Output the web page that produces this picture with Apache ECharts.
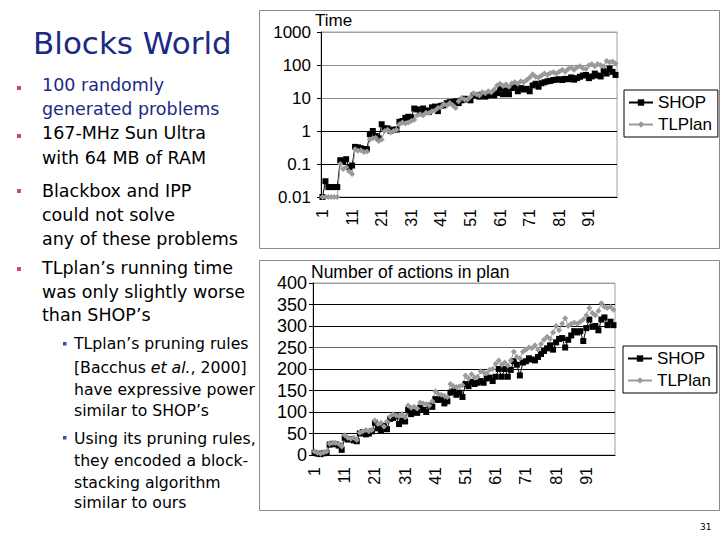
<!DOCTYPE html>
<html><head><meta charset="utf-8">
<script src="https://cdn.jsdelivr.net/npm/echarts@6/dist/echarts.min.js"></script>
<style>html,body{margin:0;padding:0;background:#fff}#c{width:720px;height:540px}</style>
</head><body><div id="c"></div>
<script>
const categories = Array.from({length: 100}, (_, i) => String(i + 1));
const timeTicks = ['0.01', '0.1', '1', '10', '100', '1000'];
const seriesNames = ['SHOP', 'TLPlan'];

const shopTime = [
  0.01, 0.03, 0.02, 0.02, 0.02, 0.02, 0.13, 0.12, 0.14, 0.08,
  0.09, 0.33, 0.32, 0.30, 0.28, 0.28, 0.8, 1.0, 0.7, 0.6,
  1.6, 1.2, 1.2, 1.0, 1.1, 1.1, 1.9, 2.0, 2.5, 2.7,
  2.6, 4.8, 4.5, 3.5, 4.8, 4.2, 3.8, 5.2, 5.5, 4.0,
  5.8, 6.0, 7.0, 7.5, 7.5, 8.0, 7.0, 8.5, 9.5, 9.0,
  8.5, 12, 12, 11, 13, 11, 12, 13, 12, 14,
  20, 13, 17, 13, 20, 24, 16, 20, 18, 19,
  16, 24, 27, 22, 28, 30, 32, 33, 35, 36,
  37, 35, 38, 37, 42, 36, 40, 44, 48, 50,
  40, 45, 55, 48, 45, 65, 55, 78, 62, 50
];
const tlplanTime = [
  0.01, 0.01, 0.01, 0.01, 0.01, 0.01, 0.10, 0.07, 0.08, 0.06,
  0.05, 0.28, 0.25, 0.26, 0.23, 0.24, 0.55, 0.6, 0.62, 0.5,
  0.55, 1.0, 1.1, 0.9, 1.0, 1.1, 1.6, 1.8, 1.7, 1.8,
  2.0, 2.2, 3.0, 3.2, 3.0, 3.6, 3.5, 4.0, 4.2, 5.0,
  5.2, 6.5, 6.0, 7.0, 6.0, 5.0, 8.0, 10, 9, 9,
  11, 14, 13, 12, 15, 14, 16, 15, 18, 24,
  27, 23, 26, 22, 28, 30, 27, 32, 30, 35,
  42, 52, 44, 42, 48, 55, 50, 57, 60, 55,
  62, 72, 62, 76, 82, 72, 86, 92, 80, 75,
  98, 105, 92, 108, 98, 92, 132, 122, 128, 112
];
const shopActions = [
  5, 3, 2, 4, 5, 24, 26, 25, 22, 12,
  40, 36, 37, 34, 32, 50, 53, 48, 50, 55,
  75, 62, 58, 68, 60, 84, 86, 90, 72, 80,
  78, 105, 95, 100, 98, 110, 105, 100, 115, 112,
  130, 128, 130, 120, 125, 145, 148, 140, 145, 135,
  165, 160, 170, 165, 168, 172, 168, 178, 180, 172,
  182, 200, 182, 200, 182, 198, 218, 210, 185, 215,
  218, 225, 222, 220, 228, 235, 242, 248, 255, 245,
  262, 270, 272, 250, 268, 278, 288, 285, 288, 265,
  295, 315, 298, 300, 290, 315, 320, 302, 310, 302
];
const tlplanActions = [
  8, 5, 3, 6, 8, 26, 28, 28, 26, 20,
  46, 40, 38, 40, 35, 52, 55, 58, 55, 58,
  80, 72, 75, 66, 78, 89, 95, 92, 90, 95,
  88, 115, 110, 112, 108, 122, 120, 118, 115, 125,
  148, 142, 140, 138, 135, 165, 160, 158, 160, 162,
  185, 178, 188, 180, 182, 195, 192, 190, 198, 200,
  212, 220, 210, 215, 208, 220, 240, 228, 225, 240,
  245, 250, 248, 255, 245, 258, 268, 275, 270, 285,
  300, 290, 305, 318, 300, 305, 308, 305, 310, 315,
  325, 342, 330, 325, 335, 353, 345, 342, 345, 338
];

const AX = '"Liberation Sans", Arial, sans-serif';
const TX = '"DejaVu Sans", Verdana, sans-serif';
const NAVY = '#1b2a84';

function txt(s, x, y, size, color, extra) {
  return Object.assign({
    type: 'text',
    style: { text: s, x: x, y: y, fontSize: size, fontFamily: TX, fill: color || '#000', verticalAlign: 'middle', align: 'left' }
  }, extra || {});
}
function sq(x, y, s, color) {
  return { type: 'rect', shape: { x: x, y: y, width: s, height: s }, style: { fill: color } };
}

const leftText = [
  txt('Blocks World', 33, 43, 31, NAVY),
  sq(17, 86, 4, '#c2506c'), sq(17, 134, 4, '#c2506c'), sq(17, 189, 4, '#c2506c'), sq(17, 267, 4, '#c2506c'),
  txt('100 randomly', 42, 85, 17.5, NAVY),
  txt('generated problems', 42, 109, 17.5, NAVY),
  txt('167-MHz Sun Ultra', 42, 133, 17.5),
  txt('with 64 MB of RAM', 42, 158, 17.5),
  txt('Blackbox and IPP', 42, 191, 17.5),
  txt('could not solve', 42, 215, 17.5),
  txt('any of these problems', 42, 239, 17.5),
  txt('TLplan\u2019s running time', 42, 268, 17.5),
  txt('was only slightly worse', 42, 292, 17.5),
  txt('than SHOP\u2019s', 42, 315, 17.5),
  sq(63, 342, 3.5, '#2f4fb8'), sq(63, 436, 3.5, '#2f4fb8'),
  txt('TLplan\u2019s pruning rules', 74, 343, 15.7),
  {
    type: 'text',
    style: {
      text: '{a|[Bacchus }{i|et al.}{a|, 2000]}', x: 74, y: 367, verticalAlign: 'middle',
      rich: {
        a: { fontSize: 15.7, fontFamily: TX, fill: '#000' },
        i: { fontSize: 15.7, fontFamily: TX, fontStyle: 'italic', fill: '#000' }
      }
    }
  },
  txt('have expressive power', 74, 389, 15.7),
  txt('similar to SHOP\u2019s', 74, 410, 15.7),
  txt('Using its pruning rules,', 74, 438, 15.7),
  txt('they encoded a block-', 74, 460, 15.7),
  txt('stacking algorithm', 74, 482, 15.7),
  txt('similar to ours', 74, 502, 15.7),
  txt('31', 700, 527, 9),
  { type: 'rect', shape: { x: 259.5, y: 10.5, width: 460, height: 238 }, style: { fill: 'none', stroke: '#8a8a8a', lineWidth: 1 } },
  { type: 'rect', shape: { x: 259.5, y: 260.5, width: 460, height: 250 }, style: { fill: 'none', stroke: '#8a8a8a', lineWidth: 1 } },
  { type: 'text', style: { text: 'Time', x: 315, y: 20, fontSize: 17, fontFamily: AX, fill: '#000', verticalAlign: 'middle' } },
  { type: 'text', style: { text: 'Number of actions in plan', x: 311, y: 272, fontSize: 17.5, fontFamily: AX, fill: '#000', verticalAlign: 'middle' } }
];

function xAxisCfg(gi) {
  return {
    gridIndex: gi, type: 'category', data: categories,
    axisLine: { lineStyle: { color: '#000', width: 1 } },
    axisTick: { interval: 0, length: 5, lineStyle: { color: '#000' } },
    axisLabel: { interval: 9, rotate: 90, margin: 12, fontSize: 16, fontFamily: AX, color: '#000' },
    splitLine: { show: false }
  };
}
function legendCfg(left, top) {
  return {
    data: seriesNames, orient: 'vertical', left: left, top: top,
    borderColor: '#000', borderWidth: 1, padding: [4, 6, 4, 4], itemGap: 5,
    itemWidth: 24, itemHeight: 8,
    textStyle: { fontSize: 17, fontFamily: AX, color: '#000', padding: [0, 0, 0, 0] },
    selectedMode: false
  };
}
function lineSeries(name, xi, data, isShop) {
  return {
    name: name, type: 'line', xAxisIndex: xi, yAxisIndex: xi, data: data,
    symbol: isShop ? 'rect' : 'diamond', symbolSize: isShop ? 6 : 6,
    showAllSymbol: true,
    itemStyle: { color: isShop ? '#000' : '#9a9a9a' },
    lineStyle: { color: isShop ? '#000' : '#9a9a9a', width: 1 },
    emphasis: { disabled: true }
  };
}

const chart = echarts.init(document.getElementById('c'), null, { renderer: 'svg' });
chart.setOption({
  animation: false,
  backgroundColor: '#fff',
  graphic: { elements: leftText },
  grid: [
    { left: 321, top: 32, width: 296, height: 165, show: true, borderColor: '#a0a0a0', borderWidth: 1 },
    { left: 313, top: 283, width: 302, height: 172, show: true, borderColor: '#a0a0a0', borderWidth: 1 }
  ],
  legend: [legendCfg(624, 90), legendCfg(623, 346)],
  xAxis: [xAxisCfg(0), xAxisCfg(1)],
  yAxis: [
    {
      gridIndex: 0, type: 'log', logBase: 10, min: 0.01, max: 1000,
      axisLine: { show: true, lineStyle: { color: '#000' } },
      axisTick: { show: true, length: 4, lineStyle: { color: '#000' } },
      axisLabel: {
        margin: 10, fontSize: 17, fontFamily: AX, color: '#000',
        formatter: v => timeTicks[Math.round(Math.log10(v)) + 2]
      },
      splitLine: { show: true, lineStyle: { color: ['#000', '#000', '#000', '#8c8c8c', '#8c8c8c', '#a0a0a0'], width: 1 } }
    },
    {
      gridIndex: 1, type: 'value', min: 0, max: 400, interval: 50,
      axisLine: { show: true, lineStyle: { color: '#000' } },
      axisTick: { show: true, length: 4, lineStyle: { color: '#000' } },
      axisLabel: { margin: 6, fontSize: 18, fontFamily: AX, color: '#000' },
      splitLine: { show: true, lineStyle: { color: ['#000', '#000', '#000', '#000', '#000', '#666', '#000', '#000', '#a0a0a0'], width: 1 } }
    }
  ],
  series: [
    lineSeries('SHOP', 0, shopTime, true),
    lineSeries('TLPlan', 0, tlplanTime, false),
    lineSeries('SHOP', 1, shopActions, true),
    lineSeries('TLPlan', 1, tlplanActions, false)
  ]
});
</script>
</body></html>
